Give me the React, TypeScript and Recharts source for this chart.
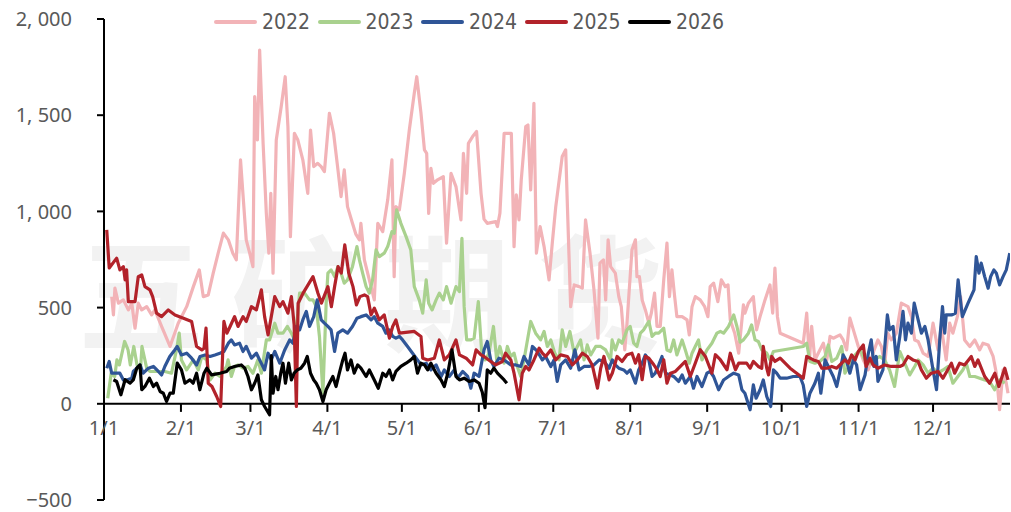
import React from 'react';
import { LineChart, Line, XAxis, YAxis, ReferenceLine, Legend } from 'recharts';

type Pt = [number, number];

// day-of-year (0 = 1/1), value
const s2022: Pt[] = [[3.1,557],[3.8,462],[4.4,601],[5.8,523],[7.8,540],[9.8,488],[11.2,523],[12.5,393],[13.8,523],[15.2,488],[17.2,505],[19.2,462],[20.5,488],[23.2,402],[26.6,298],[29.9,419],[33.3,505],[36,609],[38.4,696],[40,557],[42,566],[44,679],[46,783],[48.1,887],[50.1,852],[51.9,783],[53.3,748],[55,1268],[57.3,852],[58.7,783],[60,713],[60.7,1597],[61.8,1371],[62.7,1839],[64.1,1354],[65.4,990],[66.4,783],[67.2,1094],[68.1,679],[69.4,1371],[71.4,1545],[73,1700],[74.1,1441],[75.1,869],[76.7,1406],[78.1,1371],[80.1,1268],[82.1,1094],[83.2,1423],[84.5,1233],[86.1,1250],[87.5,1233],[88.8,1207],[90.8,1510],[92.5,1406],[94.1,1233],[95.5,1077],[96.8,1216],[98.1,1025],[100.1,938],[101.5,880],[102.9,852],[103.5,938],[104.9,748],[106.9,644],[108.9,540],[110.3,938],[112.3,895],[114.3,1060],[116,1268],[116.9,661],[117.6,1025],[119,1008],[121,1198],[123,1423],[125,1614],[126,1700],[127.7,1510],[129.1,1320],[130,1302],[130.8,990],[131.7,1224],[132.7,1146],[134.4,1164],[136.7,1181],[138,835],[139.8,1198],[141.8,1129],[143.8,956],[144.8,1302],[146.1,1094],[146.8,1354],[148.5,1389],[150.1,1415],[151.9,1094],[153.1,960],[154.4,938],[157.8,947],[158.5,921],[159.5,990],[161.2,1406],[164.1,1406],[165.2,817],[166.1,1086],[167.2,956],[168.1,1164],[169.9,1441],[170.8,1449],[171.9,1112],[173.2,1562],[174.2,783],[175.7,921],[177.3,817],[179.3,644],[180.6,835],[182,1025],[184.6,1285],[186,1320],[186.7,1025],[188,505],[189.4,618],[191.4,609],[192.7,601],[194,956],[195.8,783],[197.4,592],[199,341],[199.8,731],[201.2,748],[202.1,540],[203.1,852],[204.1,713],[206,679],[207.4,557],[208.4,505],[209.8,280],[210.7,419],[212.7,800],[214.1,852],[214.7,661],[215.7,661],[216.8,540],[218.1,488],[219.5,419],[220.5,471],[221.8,575],[222.8,402],[224.1,402],[225.5,644],[226.8,835],[227.8,557],[228.8,696],[229.9,557],[230.8,453],[232.9,453],[234.9,436],[235.8,358],[236.9,505],[238.2,557],[240.2,540],[242,505],[243.3,453],[244.2,609],[245.6,627],[247.3,531],[248.7,644],[250.3,609],[251.4,618],[252.3,436],[254.1,367],[255.7,263],[256.6,384],[257.6,514],[258.2,471],[259.6,523],[261.6,557],[262.9,384],[264.3,453],[266.3,540],[268.3,618],[269.4,471],[270.3,705],[271.3,453],[272.4,367],[281.7,315],[283.1,471],[284.2,228],[285.1,402],[286.4,228],[288.4,280],[289.8,315],[291.2,228],[292.5,350],[293.8,341],[296.5,358],[297.8,332],[299.2,280],[300.5,445],[301.9,384],[303.9,298],[305.9,228],[307.9,176],[309.8,263],[311.8,332],[313.2,298],[314.5,202],[315.8,367],[317.2,332],[319.2,367],[321.2,523],[323.9,505],[325.3,453],[326.6,332],[328,324],[330,263],[332,246],[334,419],[336,280],[337.3,402],[339.3,228],[340.7,419],[342,367],[343.8,453],[345.1,557],[346.7,332],[348.8,298],[350.8,332],[352.8,280],[354.1,315],[356.2,306],[358.2,246],[359.5,159],[360.8,-31],[362.2,176],[363.5,107],[364.2,55]];

const s2023: Pt[] = [[1.5,29],[2.9,159],[4.3,142],[5.2,228],[6.2,202],[8.3,324],[9.7,280],[10.6,202],[12,298],[13.3,202],[14.7,176],[15.3,298],[17.2,185],[18.5,168],[21.2,168],[24.5,168],[27.2,159],[29.2,280],[30.3,367],[31.2,228],[33.3,176],[36,228],[38,176],[39.4,246],[41.4,228],[42.7,124],[44.7,159],[46.7,142],[49.4,194],[50,228],[51.3,142],[52.6,194],[54,202],[56,185],[58,194],[60,159],[62,228],[63.4,159],[65.4,332],[66.7,332],[68.8,419],[70.1,367],[72.1,367],[73.9,402],[75.5,367],[76.8,332],[78.1,471],[78.8,575],[80.8,575],[82.8,540],[84.2,540],[85.5,505],[86.8,350],[88.2,55],[89.5,523],[90.2,679],[91.5,696],[92.9,661],[94.2,713],[95.5,679],[96.8,627],[98.1,644],[100.1,713],[101.9,817],[102.9,748],[104.2,679],[105.6,609],[106.9,575],[108.2,644],[109.6,800],[110.9,765],[112.9,783],[114.3,817],[116,895],[116.9,886],[117.9,1008],[119.6,938],[121.7,869],[123.6,800],[125,609],[127,540],[128.4,471],[129.8,644],[130.8,523],[132.2,488],[133.8,540],[135.1,575],[136.7,540],[138,609],[139.8,523],[141.8,609],[143.2,583],[144.2,860],[145.1,505],[146.1,332],[147.8,332],[149.1,341],[150.8,531],[152.2,263],[153.6,228],[155.1,263],[156.9,402],[158.2,228],[159.5,298],[161.2,211],[162.5,298],[163.9,246],[165.2,263],[166.5,194],[167.9,142],[169.2,228],[171.9,428],[173.9,367],[175.9,332],[177.3,376],[178.6,298],[180,332],[181.6,263],[183.3,228],[184.6,384],[186,298],[187.7,376],[189.4,263],[190.7,298],[192,332],[193.4,228],[194.7,306],[196.1,254],[198.1,298],[200.1,298],[202.1,280],[204.1,228],[204.7,332],[206,280],[207.4,332],[208.7,315],[210.7,384],[212,402],[213.4,315],[214.7,298],[216.1,367],[217.4,384],[219.5,428],[220.8,350],[222.1,367],[223.5,367],[225.5,393],[226.8,280],[228.2,272],[229.5,332],[230.8,254],[232.9,332],[234.2,280],[235.8,211],[236.9,263],[238.2,298],[239.5,332],[240.9,228],[242.9,280],[244.9,315],[246.9,367],[248.3,376],[249.6,367],[251.6,402],[253.7,462],[255,402],[256.3,320],[257.6,332],[259.6,367],[260.9,410],[262.3,332],[263.6,324],[265,280],[267,263],[268.3,228],[269.7,272],[281.7,298],[283.1,315],[284.4,220],[286.4,211],[288.4,220],[290.5,246],[291.8,306],[293.2,220],[295.2,237],[297.2,298],[298.5,159],[300.5,202],[302.6,254],[304.6,280],[306.6,228],[308.6,211],[310.5,228],[312.5,246],[314.5,228],[316.5,176],[318.5,90],[320.6,272],[322.6,211],[324.6,150],[326.6,194],[328,228],[330,202],[332,159],[334,185],[336,159],[338,176],[340,194],[342,107],[344,142],[346,176],[347.4,211],[348.8,142],[350.8,142],[352.8,133],[354.8,124],[356.8,116],[358.8,73],[360.8,124],[362.9,107]];

const s2024: Pt[] = [[1.1,185],[2.1,220],[3.1,159],[6.4,159],[7.8,124],[9.1,124],[11.2,133],[11.8,168],[13.2,185],[14.5,202],[15.8,159],[17.9,185],[19.9,194],[21.9,168],[23.2,150],[24.5,194],[26.5,246],[28.5,280],[29.5,298],[31.2,254],[33.3,263],[35.3,237],[37.3,202],[38.7,246],[40.7,254],[42.7,246],[44.7,254],[46.7,263],[48.3,272],[50.1,315],[51.3,332],[52.6,306],[54.6,315],[56,272],[57.3,298],[59.4,237],[61.4,263],[62.7,228],[64.7,176],[66.1,263],[67.4,228],[68.8,272],[70.8,211],[72.8,280],[74.8,332],[76.1,315],[77.5,402],[78.8,384],[80.1,436],[81.5,480],[82.8,402],[84.5,453],[85.9,540],[87.5,436],[88.8,419],[90.2,402],[91.5,384],[92.9,272],[94.2,367],[96.2,384],[98.1,367],[100.1,402],[101.9,445],[103.5,453],[105.6,462],[107.6,436],[108.9,453],[110.3,419],[112.3,402],[113.6,367],[115,384],[116.3,350],[117.6,341],[119,350],[120.3,332],[122.3,298],[124.3,263],[126.3,228],[127.7,202],[129.8,211],[131.7,176],[133.8,202],[135.8,142],[137.1,176],[139.1,142],[141.1,176],[142.4,133],[144.5,168],[146.5,142],[147.8,81],[149.1,159],[151.1,142],[153.1,280],[154.4,324],[155.8,228],[157.1,194],[159.1,237],[161.2,228],[163.9,202],[165.9,202],[167.9,194],[169.2,246],[171.2,202],[172.6,298],[174.6,272],[176.6,228],[177.9,246],[180,194],[181.3,228],[182.6,116],[184,202],[186,228],[188,185],[189.7,280],[191.4,176],[193.4,194],[195.4,194],[197.4,202],[199.5,228],[201.5,220],[203.5,185],[204.8,228],[206,202],[207.4,185],[209.4,176],[210.7,159],[212,176],[214.1,107],[215.4,176],[216.8,211],[218.1,254],[219.5,228],[220.8,142],[222.1,159],[223.5,202],[224.8,246],[226.2,159],[228.2,150],[229.5,142],[231.5,116],[232.9,150],[234.2,107],[236.2,142],[237.5,81],[238.9,142],[240.9,90],[242.9,159],[244.2,168],[245.6,142],[247.6,73],[249.6,124],[251.6,142],[253.7,159],[255.7,150],[257,73],[258.2,55],[260.3,-31],[261.6,98],[262.7,29],[264.3,73],[265.6,124],[267,38],[268.6,-14],[269.7,176],[271,159],[272.4,133],[275,133],[277.7,142],[280.4,142],[281.7,98],[283.1,-14],[284.4,55],[286.4,107],[287.8,159],[288.8,55],[290.5,228],[291.8,194],[293.8,142],[295.2,90],[296.5,168],[297.8,254],[299.2,220],[300.5,159],[301.9,228],[303.2,202],[304.6,73],[306.6,150],[307.9,260],[309.1,332],[310.2,194],[311.1,246],[311.8,116],[313.8,176],[315.6,462],[316.5,384],[317.9,402],[319.2,228],[320.6,350],[321.9,480],[322.9,332],[323.9,419],[325.3,367],[326.4,523],[328,436],[329.3,367],[330.7,402],[332,332],[334,176],[335.4,73],[336.7,332],[337.8,505],[338.7,367],[339.3,462],[341.4,462],[343,471],[344.1,644],[345.8,453],[348.1,523],[350.5,592],[351.4,765],[352.5,679],[353.4,731],[354.8,661],[356.2,601],[357.2,661],[358.5,696],[359.5,679],[360.8,618],[362.2,661],[363.5,696],[364.9,783]];

const s2025: Pt[] = [[1.1,904],[2.1,706],[5.1,757],[6.4,696],[7.8,713],[8.5,644],[9.1,696],[9.8,531],[12.5,531],[13.8,661],[15.2,670],[16.5,609],[18.5,592],[19.6,557],[21.2,471],[23.2,453],[25.9,488],[28.6,462],[32,445],[35.3,428],[37.3,298],[39.4,280],[40.3,289],[41.1,393],[42,107],[43.5,90],[45.4,38],[47,-14],[48.3,428],[49.5,367],[50.8,402],[52.6,453],[54,402],[56,453],[57.3,428],[59.4,505],[61.4,488],[63.4,592],[64.7,453],[66.1,358],[68.8,557],[70.8,505],[72.1,531],[74.1,471],[75.5,557],[76.6,410],[77.5,-14],[78.2,523],[80.2,575],[82.2,618],[84.2,661],[86.2,575],[87.6,523],[90.2,609],[91.6,505],[92.9,609],[94.3,713],[95.6,679],[97,826],[98.6,679],[100.3,609],[101.7,514],[103.1,557],[104.9,566],[106.2,557],[107.6,462],[108.9,497],[110.9,436],[112.9,462],[115,341],[116.3,402],[117.6,436],[119,367],[125,376],[127.7,350],[128.4,237],[130.4,228],[133.1,237],[135.1,332],[137.1,228],[139.1,254],[141.8,332],[143.2,254],[145.9,237],[148.5,202],[149.9,280],[151.9,254],[153.1,246],[155.8,220],[157.8,202],[160.5,220],[161.8,263],[163.9,228],[165.2,159],[167.2,21],[168.5,159],[169.9,194],[171.2,176],[173.2,228],[175.3,289],[176.6,263],[177.9,246],[180,280],[182,228],[184,254],[186.7,246],[188.7,202],[190.7,228],[192.7,263],[194.7,246],[196.7,202],[198.8,81],[200.1,185],[201.4,246],[203.5,124],[204.8,160],[206.7,246],[208.7,220],[210.7,255],[212.7,263],[214.1,211],[215.4,255],[216.8,125],[218.1,246],[219.5,237],[221.5,203],[222.8,177],[224.1,142],[225.5,229],[226.8,107],[228.2,159],[230.2,168],[232.2,194],[234.2,220],[236.2,142],[238.2,211],[240.2,281],[242.3,246],[244.9,159],[246.3,255],[248.3,229],[251,177],[252.3,263],[254.4,177],[255.7,211],[258.9,211],[260.3,185],[261.6,220],[263.6,194],[265,185],[265.6,298],[267,185],[267.7,150],[269,246],[270.3,220],[272.4,237],[276.4,185],[281.7,133],[283.1,246],[285.8,228],[287.8,220],[289.2,185],[291.2,185],[293.2,194],[295.2,185],[296.5,202],[298.5,228],[299.9,211],[301.2,254],[302.6,228],[303.9,272],[305.9,306],[307,194],[308.6,237],[309.8,202],[311.8,185],[314.5,202],[317.2,194],[320.6,194],[321.9,202],[323.9,246],[325.9,228],[328,220],[329.3,176],[331.3,133],[333.3,159],[336,168],[338,133],[341.4,211],[342.7,159],[344.7,211],[346.7,202],[349.4,246],[350.8,194],[352.1,228],[354.8,142],[356.8,107],[358.9,159],[360.5,90],[362.9,185],[364.2,124]];

const s2026: Pt[] = [[3.8,125],[5.1,116],[6.8,47],[8.5,125],[10.5,107],[11.8,124],[13.2,185],[14.5,202],[15.2,73],[16.5,90],[18.3,133],[19.9,90],[21.2,107],[22.6,64],[23.9,55],[25.2,12],[26.6,55],[27.9,55],[29.5,211],[31.2,176],[32.6,107],[34.6,124],[35.9,107],[37.3,159],[38.6,73],[40.3,159],[41.4,185],[43.4,150],[46.7,159],[49.4,168],[50.5,185],[52.6,194],[55.3,202],[56.7,185],[58,142],[59.4,73],[60.7,107],[62,150],[63.4,21],[64.7,-14],[66.7,-57],[67.4,250],[68.1,55],[69.2,142],[70.1,73],[71.2,159],[72.1,211],[73.1,107],[74.4,211],[75.5,124],[76.6,159],[77.9,176],[79.3,185],[80.8,211],[81.9,246],[83.2,159],[84.5,124],[85.5,107],[86.8,73],[88.2,12],[89.5,73],[90.8,107],[92.2,142],[93.5,90],[94.8,159],[96.2,228],[97.1,263],[98.1,176],[99.5,228],[100.8,159],[102.2,202],[103.5,185],[105.6,142],[106.9,176],[108.9,124],[110.5,81],[112.3,159],[113.6,142],[115,176],[116.3,124],[117.6,168],[119.6,194],[121.7,211],[123.6,228],[125,246],[126.3,159],[127.7,211],[129.1,202],[130.4,176],[131.7,211],[133.8,159],[135.8,124],[137.1,90],[138.5,159],[140.2,280],[141.8,142],[143.2,124],[145.1,133],[147.1,116],[149.1,124],[151.1,107],[152.4,60],[153.5,-20],[154.4,176],[155.8,159],[157.1,185],[158.5,159],[159.8,142],[161.2,124],[162.3,107]];

const years = ['2022', '2023', '2024', '2025', '2026'];
const seriesList: Pt[][] = [s2022, s2023, s2024, s2025, s2026];
const colors = ['#F2B3B7', '#A9D18E', '#2F5597', '#B2222A', '#000000'];

const yTicks = [-500, 0, 500, 1000, 1500, 2000];
const monthDays = [0, 31, 59, 90, 120, 151, 181, 212, 243, 273, 304, 334];
const monthLabels = ['1/1', '2/1', '3/1', '4/1', '5/1', '6/1', '7/1', '8/1', '9/1', '10/1', '11/1', '12/1'];

const LABEL_FONT = "'Noto Sans', 'DejaVu Sans', sans-serif";
const LEGEND_FONT = "'Liberation Sans Narrow', 'DejaVu Sans Condensed', 'Noto Sans', sans-serif";
const TEXT_COLOR = '#595959';

const fmtY = (v: number): string => {
  if (v < 0) return '\u2212' + Math.abs(v);
  if (v >= 1000) return `${Math.floor(v / 1000)}, ${String(v % 1000).padStart(3, '0')}`;
  return String(v);
};

const toRows = (pts: Pt[]) => pts.map(([d, v]) => ({ d, v }));

const LegendContent = () => (
  <div style={{ position: 'relative', height: 28, width: 1011 }}>
    {years.map((y, i) => (
      <div
        key={y}
        style={{
          position: 'absolute',
          left: 214 + i * 103.5,
          top: 0,
          height: 28,
          display: 'flex',
          alignItems: 'center',
        }}
      >
        <span
          style={{
            display: 'inline-block',
            width: 43,
            height: 4,
            borderRadius: 2,
            background: colors[i],
            marginRight: 5,
          }}
        />
        <span style={{ fontSize: 21, color: TEXT_COLOR, fontFamily: LEGEND_FONT, lineHeight: '28px' }}>{y}</span>
      </div>
    ))}
  </div>
);

export default function App() {
  return (
    <div style={{ position: 'absolute', left: 0, top: 0, width: 1011, height: 512, background: '#ffffff', overflow: 'hidden' }}>
      <div
        style={{
          position: 'absolute',
          left: 78,
          top: 224,
          fontSize: 126,
          lineHeight: 1,
          letterSpacing: 27,
          fontWeight: 700,
          color: '#f2f2f2',
          fontFamily: "'Noto Sans CJK SC', sans-serif",
          whiteSpace: 'nowrap',
          pointerEvents: 'none',
        }}
      >
        五矿期货
      </div>
      <div style={{ position: 'absolute', left: 0, top: 0 }}>
        <LineChart width={1011} height={512} margin={{ top: 19, right: 1, bottom: 12, left: 0 }}>
          <XAxis type="number" dataKey="d" domain={[0, 365]} hide allowDataOverflow />
          <YAxis
            type="number"
            domain={[-500, 2000]}
            ticks={yTicks}
            interval={0}
            width={104}
            tickFormatter={fmtY}
            axisLine={{ stroke: '#000', strokeWidth: 2 }}
            tickLine={{ stroke: '#000', strokeWidth: 2 }}
            tickSize={7}
            tickMargin={25}
            tick={{ fill: TEXT_COLOR, fontSize: 20, fontFamily: LABEL_FONT }}
            allowDataOverflow
          />
          <ReferenceLine y={0} stroke="#000" strokeWidth={2} />
          {monthDays.map((d, i) => (
            <ReferenceLine
              key={monthLabels[i]}
              segment={[{ x: d, y: 0 }, { x: d, y: -42 }]}
              stroke="#000"
              strokeWidth={2}
              label={{
                value: monthLabels[i],
                position: 'bottom',
                offset: 9,
                fill: TEXT_COLOR,
                fontSize: 20,
                fontFamily: LABEL_FONT,
              }}
            />
          ))}
          {seriesList.map((s, i) => (
            <Line
              key={years[i]}
              data={toRows(s)}
              dataKey="v"
              name={years[i]}
              type="linear"
              stroke={colors[i]}
              strokeWidth={3.2}
              dot={false}
              activeDot={false}
              isAnimationActive={false}
              strokeLinejoin="round"
            />
          ))}
          <Legend
            layout="horizontal"
            verticalAlign="middle"
            align="center"
            wrapperStyle={{ top: 8, left: 0, width: 1011 }}
            content={<LegendContent />}
          />
        </LineChart>
      </div>
    </div>
  );
}
